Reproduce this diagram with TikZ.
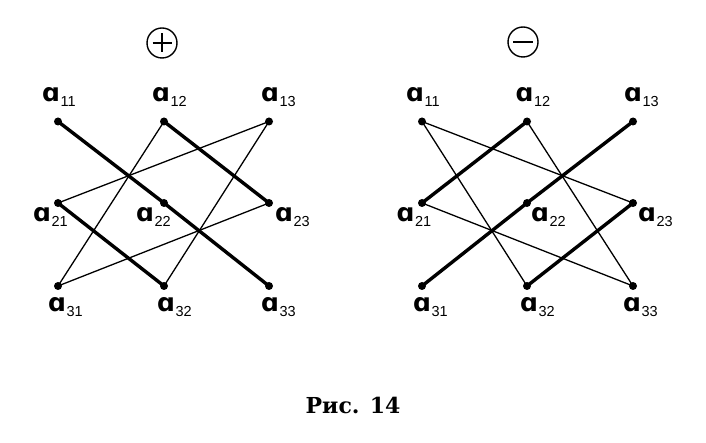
\documentclass[tikz,border=0pt]{standalone}
\usepackage{fontspec}
\newfontfamily\afont{DejaVu Sans}
\newfontfamily\subfont{Liberation Sans}
\newfontfamily\capfont{DejaVu Serif}
\newcommand{\subs}[1]{\rlap{\kern0.6pt\raisebox{-5pt}{\subfont\mdseries\fontsize{14.5}{14.5}\selectfont #1}}}
\begin{document}
\begin{tikzpicture}[x=1pt,y=-1pt,
  dot/.style={circle,fill=black,inner sep=0pt,minimum size=8pt},
  heavy/.style={line width=3.4pt},
  light/.style={line width=1.3pt},
  lab/.style={inner sep=0pt,font=\afont\bfseries\fontsize{25}{25}\selectfont},
  sign/.style={draw,circle,inner sep=0pt,minimum size=30pt,line width=1.4pt},
  signbar/.style={line width=1.6pt}]
\useasboundingbox (0,0) rectangle (706,443);
% points
\foreach \r/\y in {1/121.5,2/203,3/286}{
  \foreach \c/\x in {1/58,2/164,3/269}{
    \node[dot] (L\r\c) at (\x,\y) {};
  }
}
\foreach \r/\y in {1/121.5,2/203,3/286}{
  \foreach \c/\x in {1/422,2/527,3/633}{
    \node[dot] (R\r\c) at (\x,\y) {};
  }
}
% left: plus
\draw[heavy] (L11.center) -- (L22.center) -- (L33.center);
\draw[heavy] (L12.center) -- (L23.center);
\draw[heavy] (L21.center) -- (L32.center);
\draw[light] (L12.center) -- (L31.center);
\draw[light] (L23.center) -- (L31.center);
\draw[light] (L13.center) -- (L21.center);
\draw[light] (L13.center) -- (L32.center);
% right: minus
\draw[heavy] (R13.center) -- (R22.center) -- (R31.center);
\draw[heavy] (R12.center) -- (R21.center);
\draw[heavy] (R23.center) -- (R32.center);
\draw[light] (R11.center) -- (R23.center);
\draw[light] (R11.center) -- (R32.center);
\draw[light] (R21.center) -- (R33.center);
\draw[light] (R12.center) -- (R33.center);
% labels left
\path (L11) ++(-7,-24.5) node[lab] (tL11) {ɑ\subs{11}};
\path (L12) ++(-3,-24.5) node[lab] (tL12) {ɑ\subs{12}};
\path (L13) ++(1,-24.5) node[lab] (tL13) {ɑ\subs{13}};
\path (L21) ++(-16,14) node[lab] (tL21) {ɑ\subs{21}};
\path (L22) ++(-19,14) node[lab] (tL22) {ɑ\subs{22}};
\path (L23) ++(15,14) node[lab] (tL23) {ɑ\subs{23}};
\path (L31) ++(-1,21) node[lab] (tL31) {ɑ\subs{31}};
\path (L32) ++(2,21) node[lab] (tL32) {ɑ\subs{32}};
\path (L33) ++(1,21) node[lab] (tL33) {ɑ\subs{33}};
% labels right
\path (R11) ++(-7,-24.5) node[lab] (tR11) {ɑ\subs{11}};
\path (R12) ++(-2.5,-24.5) node[lab] (tR12) {ɑ\subs{12}};
\path (R13) ++(0,-24) node[lab] (tR13) {ɑ\subs{13}};
\path (R21) ++(-16.5,14) node[lab] (tR21) {ɑ\subs{21}};
\path (R22) ++(13,14) node[lab] (tR22) {ɑ\subs{22}};
\path (R23) ++(14,14) node[lab] (tR23) {ɑ\subs{23}};
\path (R31) ++(0,21) node[lab] (tR31) {ɑ\subs{31}};
\path (R32) ++(2,21) node[lab] (tR32) {ɑ\subs{32}};
\path (R33) ++(-1,21) node[lab] (tR33) {ɑ\subs{33}};
% signs
\node[sign] (plus) at (162,43) {};
\draw[signbar] (plus.center) ++(-9.5,0) -- ++(19,0);
\draw[signbar] (plus.center) ++(0,-9.5) -- ++(0,19);
\node[sign] (minus) at (523,42) {};
\draw[signbar] (minus.center) ++(-10,0) -- ++(20,0);
% caption
\node[font=\capfont\bfseries\fontsize{22}{22}\selectfont] (cap) at (353,405) {Рис. 14};
\end{tikzpicture}
\end{document}
